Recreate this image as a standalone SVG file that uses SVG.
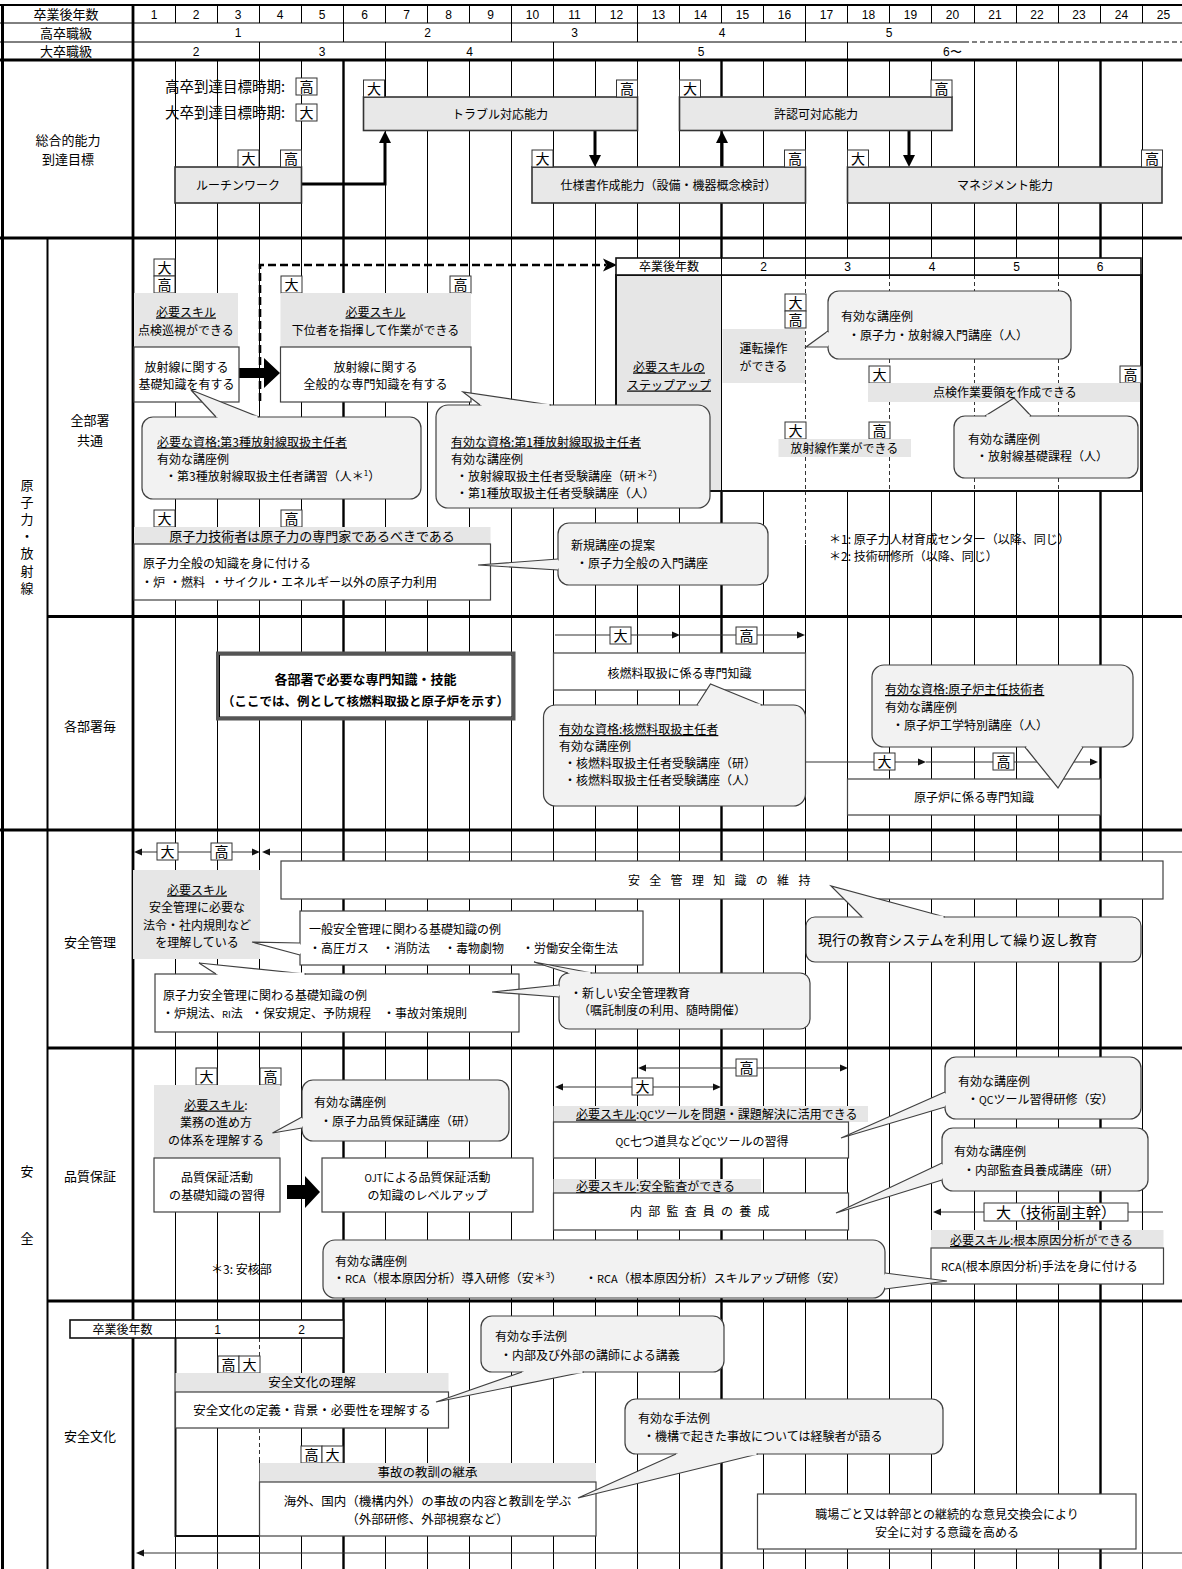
<svg xmlns="http://www.w3.org/2000/svg" width="1182" height="1569" viewBox="0 0 1182 1569">
<style>
svg{font-size:12px}
text{font-family:"Noto Sans CJK JP","Noto Sans CJK SC",sans-serif;fill:#000}
.c{text-anchor:middle}
.n{font-family:"Liberation Sans",Arial,sans-serif}
.u{text-decoration:underline}
.gl{stroke:#000;stroke-width:1;fill:none}
.gk{stroke:#000;stroke-width:2.4;fill:none}
.fr{stroke:#000;stroke-width:2.8;fill:none}
.tag{fill:#fff;stroke:#333;stroke-width:1}
.tagt{font-size:14px;text-anchor:middle}
.band{fill:#e6e6e6}
.box{fill:#fff;stroke:#404040;stroke-width:1.2}
.gbox{fill:#e8e8e8;stroke:#333;stroke-width:1.6}
.cl{fill:#f2f2f2;stroke:#404040;stroke-width:1.2}
.wc{fill:#fff;stroke:#404040;stroke-width:1.2}
.seam{stroke:#f2f2f2;stroke-width:3;fill:none}
.wseam{stroke:#fff;stroke-width:3;fill:none}
.ln{stroke:#333;stroke-width:1.2;fill:none}
.th{stroke:#000;stroke-width:3;fill:none}
.dash{stroke:#333;stroke-width:1;stroke-dasharray:4 3;fill:none}
</style>
<defs>
<marker id="a" viewBox="0 0 8 8" refX="0" refY="4" markerWidth="8" markerHeight="8" markerUnits="userSpaceOnUse" orient="auto-start-reverse"><path d="M0,0.6 L8,4 L0,7.4 z" fill="#111"/></marker>
<marker id="A" viewBox="0 0 12 12" refX="0" refY="6" markerWidth="12" markerHeight="12" markerUnits="userSpaceOnUse" orient="auto"><path d="M0,0 L12,6 L0,12 z" fill="#000"/></marker>
<g id="tD"><rect class="tag" width="21" height="17"/><text class="tagt" x="10.5" y="14">大</text></g>
<g id="tK"><rect class="tag" width="21" height="17"/><text class="tagt" x="10.5" y="14">高</text></g>
</defs>
<rect width="1182" height="1569" fill="#fff"/>

<!-- year grid -->
<g id="grid">
<path class="gl" d="M175.5 60V1569M217.5 60V1569M259.5 60V1338M259.5 1460V1569M301.5 60V1569M385.5 60V1569M427.5 60V1569M469.5 60V1569M511.5 60V1569M553.5 60V1569M595.5 60V1569M637.5 60V1569M679.5 60V1569M763.5 60V1569M805.5 60V491M805.5 545V1569M847.5 60V1569M889.5 60V1569M931.5 60V1569M974.5 60V1569M1016.5 60V1569M1058.5 60V1569M1142.5 60V1569"/>
<path class="gk" d="M343.5 60V1569M721.5 60V1569M1100.5 60V1569"/>
<path class="dash" d="M259.5 1338V1460M805.5 491V545"/>
</g>

<!-- header rows -->
<g id="header">
<path class="gl" d="M0 23H1182M0 42H964"/>
<path class="dash" d="M964 42H1182" style="stroke:#000;stroke-width:1.2;stroke-dasharray:5 3"/>
<path class="gl" d="M0 5H1182" style="stroke-width:2"/>
<path class="gl" d="M175.5 5V23M217.5 5V23M259.5 5V23M301.5 5V23M343.5 5V23M385.5 5V23M427.5 5V23M469.5 5V23M511.5 5V23M553.5 5V23M595.5 5V23M637.5 5V23M679.5 5V23M721.5 5V23M763.5 5V23M805.5 5V23M847.5 5V23M889.5 5V23M931.5 5V23M974.5 5V23M1016.5 5V23M1058.5 5V23M1100.5 5V23M1142.5 5V23"/>
<path class="gl" d="M343.5 23V42M511.5 23V42M637.5 23V42M805.5 23V42M259.5 42V60M385.5 42V60M553.5 42V60M847.5 42V60"/>
<text class="c" x="66" y="19" font-size="13">卒業後年数</text>
<text class="c" x="66" y="37.5" font-size="13">高卒職級</text>
<text class="c" x="66" y="56" font-size="13">大卒職級</text>
<g font-size="12">
<text class="c n" x="154" y="18.5">1</text><text class="c n" x="196" y="18.5">2</text><text class="c n" x="238" y="18.5">3</text><text class="c n" x="280" y="18.5">4</text><text class="c n" x="322" y="18.5">5</text><text class="c n" x="364.5" y="18.5">6</text><text class="c n" x="406.5" y="18.5">7</text><text class="c n" x="448.5" y="18.5">8</text><text class="c n" x="490.5" y="18.5">9</text><text class="c n" x="532.5" y="18.5">10</text><text class="c n" x="574.5" y="18.5">11</text><text class="c n" x="616.5" y="18.5">12</text><text class="c n" x="658.5" y="18.5">13</text><text class="c n" x="700.5" y="18.5">14</text><text class="c n" x="742.5" y="18.5">15</text><text class="c n" x="784.5" y="18.5">16</text><text class="c n" x="826.5" y="18.5">17</text><text class="c n" x="868.5" y="18.5">18</text><text class="c n" x="910.5" y="18.5">19</text><text class="c n" x="952.5" y="18.5">20</text><text class="c n" x="995" y="18.5">21</text><text class="c n" x="1037" y="18.5">22</text><text class="c n" x="1079" y="18.5">23</text><text class="c n" x="1121.5" y="18.5">24</text><text class="c n" x="1163.5" y="18.5">25</text>
<text class="c n" x="238" y="37">1</text><text class="c n" x="427.5" y="37">2</text><text class="c n" x="574.5" y="37">3</text><text class="c n" x="722" y="37">4</text><text class="c n" x="889" y="37">5</text>
<text class="c n" x="196" y="55.5">2</text><text class="c n" x="322" y="55.5">3</text><text class="c n" x="469.5" y="55.5">4</text><text class="c n" x="701" y="55.5">5</text><text class="n" x="943" y="55.5">6〜</text>
</g>
</g>

<!-- outer frame and section rules -->
<g id="frame">
<path class="fr" d="M0 60H1182M0 238H1182M47 616.5H1182M0 830H1182M47 1048H1182M47 1301H1182"/>
<path class="fr" d="M2.5 5V1569" style="stroke-width:3"/>
<path class="fr" d="M133 5V1569"/>
<path class="fr" d="M47.5 238V1569" style="stroke-width:2"/>
</g>

<!-- row labels -->
<g id="labels">
<text class="c" x="68" y="145" font-size="13">総合的能力</text>
<text class="c" x="68" y="164" font-size="13">到達目標</text>
<g font-size="13">
<text class="c" x="27" y="490">原</text><text class="c" x="27" y="507">子</text><text class="c" x="27" y="524">力</text><text class="c" x="27" y="541">・</text><text class="c" x="27" y="558">放</text><text class="c" x="27" y="575.5">射</text><text class="c" x="27" y="593">線</text>
<text class="c" x="27" y="1176">安</text><text class="c" x="27" y="1243">全</text>
</g>
<text class="c" x="90" y="424.5" font-size="13">全部署</text>
<text class="c" x="90" y="444.5" font-size="13">共通</text>
<text class="c" x="90" y="731" font-size="13">各部署毎</text>
<text class="c" x="90" y="947" font-size="13">安全管理</text>
<text class="c" x="90" y="1181" font-size="13">品質保証</text>
<text class="c" x="90" y="1441" font-size="13">安全文化</text>
</g>

<!-- connectors -->
<g id="connectors">
<path class="th" d="M302 184H385V143" marker-end="url(#A)"/>
<path class="th" d="M595 131V155" marker-end="url(#A)"/>
<path class="th" d="M722 167V143" marker-end="url(#A)"/>
<path class="th" d="M909 131V155" marker-end="url(#A)"/>
<path d="M260 401V265H606" fill="none" stroke="#000" stroke-width="2.6" stroke-dasharray="8 4"/>
<path d="M603 258.5L617 265L603 271.5L606.5 265Z" fill="#000"/>
<path d="M239 368H264V358L280 373L264 388V378H239Z" fill="#000"/>
<path d="M287 1185H305V1176L320 1192L305 1208V1199H287Z" fill="#000"/>
<path class="ln" d="M555 635H672" marker-end="url(#a)"/>
<path class="ln" d="M680 635H797" marker-end="url(#a)"/>
<path class="ln" d="M805 762H918" marker-end="url(#a)"/>
<path class="ln" d="M926 762H1090" marker-end="url(#a)"/>
<path class="ln" d="M142 852H252" marker-start="url(#a)" marker-end="url(#a)"/>
<path class="ln" d="M270 852H1182" marker-start="url(#a)"/>
<path class="ln" d="M646 1068H840" marker-start="url(#a)" marker-end="url(#a)"/>
<path class="ln" d="M563 1087H713" marker-start="url(#a)" marker-end="url(#a)"/>
<path class="ln" d="M941 1212H1163" marker-start="url(#a)"/>
<path class="ln" d="M144 1553H1182" marker-start="url(#a)"/>
</g>

<!-- overall competence targets -->
<g id="legend">
<text x="165" y="92" font-size="14.5">高卒到達目標時期:</text>
<text x="165" y="118" font-size="14.5">大卒到達目標時期:</text>
<use href="#tK" x="296" y="78"/><use href="#tD" x="296" y="104"/>
</g>
<g id="n-trouble">
<rect class="gbox" x="363.5" y="97" width="274" height="33.5"/>
<text class="c" x="500" y="118.5">トラブル対応能力</text>
<use href="#tD" x="363.5" y="80"/><use href="#tK" x="616.5" y="80"/>
</g>
<g id="n-permit">
<rect class="gbox" x="679.5" y="97" width="272.5" height="33.5"/>
<text class="c" x="816" y="118.5">許認可対応能力</text>
<use href="#tD" x="679.5" y="80"/><use href="#tK" x="931" y="80"/>
</g>
<g id="n-routine">
<rect class="gbox" x="175" y="167" width="126.5" height="36"/>
<text class="c" x="238" y="189.5">ルーチンワーク</text>
<use href="#tD" x="238" y="150"/><use href="#tK" x="280.5" y="150"/>
</g>
<g id="n-spec">
<rect class="gbox" x="532" y="167" width="273.5" height="36"/>
<text class="c" x="668.5" y="189.5">仕様書作成能力（設備・機器概念検討）</text>
<use href="#tD" x="532" y="150"/><use href="#tK" x="784.5" y="150"/>
</g>
<g id="n-mgmt">
<rect class="gbox" x="847.5" y="167" width="314.5" height="36"/>
<text class="c" x="1005" y="189.5">マネジメント能力</text>
<use href="#tD" x="847.5" y="150"/><use href="#tK" x="1141.5" y="150"/>
</g>

<!-- nuclear / radiation: all departments -->
<g id="n-patrol">
<use href="#tD" x="154" y="259"/><use href="#tK" x="154" y="276"/>
<rect class="band" x="134" y="293" width="104" height="54"/>
<text class="c u" x="186" y="316.5">必要スキル</text>
<text class="c" x="186" y="334.5">点検巡視ができる</text>
<rect class="box" x="134" y="347" width="105" height="55"/>
<text class="c" x="186.5" y="371.5">放射線に関する</text>
<text class="c" x="186.5" y="388.5">基礎知識を有する</text>
</g>
<g id="n-lead">
<use href="#tD" x="281" y="276"/><use href="#tK" x="450" y="276"/>
<rect class="band" x="280.5" y="293" width="190.5" height="54"/>
<text class="c u" x="375.5" y="316.5">必要スキル</text>
<text class="c" x="375.5" y="334.5">下位者を指揮して作業ができる</text>
<rect class="box" x="280.5" y="347" width="190.5" height="55"/>
<text class="c" x="375.5" y="371.5">放射線に関する</text>
<text class="c" x="375.5" y="388.5">全般的な専門知識を有する</text>
</g>
<g id="n-qual3">
<rect class="cl" x="142" y="417" width="279" height="82" rx="11"/>
<path class="cl" d="M216 417L191 390L259 417"/>
<path class="seam" d="M217.5 417H257.5"/>
<text class="u" x="157" y="446.5">必要な資格:第3種放射線取扱主任者</text>
<text x="157" y="464">有効な講座例</text>
<text x="165" y="481">・第3種放射線取扱主任者講習（人＊<tspan font-size="8" dy="-5">1</tspan><tspan dy="5">）</tspan></text>
</g>
<g id="n-stepup">
<rect x="616" y="275" width="525" height="216" fill="#fff" stroke="#111" stroke-width="2"/>
<rect class="band" x="617" y="276" width="104.5" height="214"/>
<path class="gl" d="M721.5 275V491"/>
<path class="dash" d="M805.5 275V491M889.5 275V491M974.5 275V491M1058.5 275V491"/>
<rect x="616" y="258" width="525" height="17" fill="#fff" stroke="#111" stroke-width="1.6"/>
<path class="gl" d="M721.5 258V275M805.5 258V275M889.5 258V275M974.5 258V275M1058.5 258V275"/>
<text class="c" x="669" y="271">卒業後年数</text>
<text class="c n" x="763.5" y="271">2</text><text class="c n" x="847.5" y="271">3</text><text class="c n" x="932" y="271">4</text><text class="c n" x="1016.5" y="271">5</text><text class="c n" x="1100" y="271">6</text>
<text class="c u" x="669" y="371.5">必要スキルの</text>
<text class="c u" x="669" y="389.5">ステップアップ</text>
</g>
<g id="n-qual1">
<rect class="cl" x="436" y="405" width="274" height="103" rx="12"/>
<path class="cl" d="M480 405L463 392L551 405"/>
<path class="seam" d="M481.5 405H549.5"/>
<text class="u" x="451" y="446.5">有効な資格:第1種放射線取扱主任者</text>
<text x="451" y="464">有効な講座例</text>
<text x="456" y="481">・放射線取扱主任者受験講座（研＊<tspan font-size="8" dy="-5">2</tspan><tspan dy="5">）</tspan></text>
<text x="456" y="498">・第1種放取扱主任者受験講座（人）</text>
</g>
<g id="n-operate">
<use href="#tD" x="785" y="294"/><use href="#tK" x="785" y="311"/>
<rect class="band" x="722.5" y="329" width="82.5" height="54"/>
<text class="c" x="763.5" y="352.5">運転操作</text>
<text class="c" x="763.5" y="370.5">ができる</text>
</g>
<g id="n-intro">
<rect class="cl" x="828" y="291" width="243" height="68" rx="11"/>
<path class="cl" d="M828 331L806 347L828 347"/>
<path class="seam" d="M828 332.5V345.5"/>
<text x="841" y="321">有効な講座例</text>
<text x="848" y="339.5">・原子力・放射線入門講座（人）</text>
</g>
<g id="n-procedure">
<use href="#tD" x="869" y="366"/><use href="#tK" x="1120" y="366"/>
<rect class="band" x="868" y="383" width="272" height="19"/>
<text class="c" x="1005" y="397">点検作業要領を作成できる</text>
</g>
<g id="n-basic">
<rect class="cl" x="954" y="416" width="184" height="62" rx="11"/>
<path class="cl" d="M985 416L1014 398L1031 416"/>
<path class="seam" d="M986.5 416H1029.5"/>
<text x="968" y="443.5">有効な講座例</text>
<text x="976" y="461">・放射線基礎課程（人）</text>
</g>
<g id="n-radwork">
<use href="#tD" x="785" y="422"/><use href="#tK" x="869" y="422"/>
<rect class="band" x="778.5" y="439" width="132.5" height="18"/>
<text class="c" x="844.5" y="452.5">放射線作業ができる</text>
</g>
<g id="n-notes">
<text x="829" y="543.5">＊1: 原子力人材育成センター（以降、同じ）</text>
<text x="829" y="561">＊2: 技術研修所（以降、同じ）</text>
</g>
<g id="n-general">
<use href="#tD" x="154" y="510"/><use href="#tK" x="281" y="510"/>
<rect class="band" x="134" y="527" width="356.5" height="17"/>
<text class="c" x="312" y="540.5" font-size="13">原子力技術者は原子力の専門家であるべきである</text>
<rect class="box" x="134" y="544" width="356.5" height="56"/>
<text x="143" y="568">原子力全般の知識を身に付ける</text>
<text y="587"><tspan x="141">・炉</tspan><tspan x="169">・燃料</tspan><tspan x="211">・サイクル</tspan><tspan x="269">・エネルギー以外の原子力利用</tspan></text>
</g>
<g id="n-newcourse">
<rect class="cl" x="558" y="523" width="210" height="62" rx="11"/>
<path class="cl" d="M558 559L478 565L558 570"/>
<path class="seam" d="M558 560.5V568.5"/>
<text x="571" y="549.5">新規講座の提案</text>
<text x="576" y="567.5">・原子力全般の入門講座</text>
</g>

<!-- nuclear / radiation: per department -->
<g id="n-dept">
<rect x="217.5" y="653" width="296.5" height="66" fill="#fff" stroke="#555" stroke-width="3"/>
<rect x="219.5" y="655" width="292.5" height="62" fill="none" stroke="#000" stroke-width="1"/>
<text class="c" x="365.5" y="684" font-weight="bold" font-size="13">各部署で必要な専門知識・技能</text>
<text class="c" x="365.5" y="706" font-weight="bold" font-size="12.5">（ここでは、例として核燃料取扱と原子炉を示す）</text>
</g>
<g id="n-fuel">
<use href="#tD" x="610" y="627"/><use href="#tK" x="736" y="627"/>
<rect class="box" x="553.5" y="653" width="252" height="37"/>
<text class="c" x="679.5" y="677.5">核燃料取扱に係る専門知識</text>
</g>
<g id="n-fuelqual">
<rect class="cl" x="543.5" y="705" width="262" height="101" rx="12"/>
<path class="cl" d="M697 705L710.5 684L762 705"/>
<path class="seam" d="M698.5 705H760.5"/>
<text class="u" x="559" y="734">有効な資格:核燃料取扱主任者</text>
<text x="559" y="751">有効な講座例</text>
<text x="564" y="768">・核燃料取扱主任者受験講座（研）</text>
<text x="564" y="785">・核燃料取扱主任者受験講座（人）</text>
</g>
<g id="n-reactor">
<use href="#tD" x="874" y="753"/><use href="#tK" x="993" y="753"/>
<rect class="box" x="847.5" y="779" width="253" height="36"/>
<text class="c" x="974" y="801.5">原子炉に係る専門知識</text>
</g>
<g id="n-reactorqual">
<rect class="cl" x="872" y="665" width="261" height="82" rx="12"/>
<path class="cl" d="M1025 747L1058 788L1083 747"/>
<path class="seam" d="M1026.5 747H1081.5"/>
<text class="u" x="885" y="694">有効な資格:原子炉主任技術者</text>
<text x="885" y="712">有効な講座例</text>
<text x="892" y="729.5">・原子炉工学特別講座（人）</text>
</g>

<!-- safety management -->
<g id="n-law">
<use href="#tD" x="157" y="843"/><use href="#tK" x="211" y="843"/>
<rect class="band" x="133" y="870" width="127" height="89"/>
<text class="c u" x="197" y="894.5">必要スキル</text>
<text class="c" x="197" y="912">安全管理に必要な</text>
<text class="c" x="197" y="929.5">法令・社内規則など</text>
<text class="c" x="197" y="947">を理解している</text>
</g>
<g id="n-keep">
<rect class="box" x="281" y="861" width="882" height="38"/>
<text x="628" y="884.5" letter-spacing="9.3">安全管理知識の維持</text>
</g>
<g id="n-repeat">
<rect class="cl" x="806" y="917" width="335" height="45" rx="9"/>
<path class="cl" d="M862 917L831 886L945 917"/>
<path class="seam" d="M863.5 917H943.5"/>
<text x="818" y="945" font-size="14">現行の教育システムを利用して繰り返し教育</text>
</g>
<g id="n-gensafe">
<rect class="wc" x="300" y="911" width="343" height="54"/>
<path class="wc" d="M300 943L252 942L300 955"/>
<path class="wseam" d="M300 944.5V953.5"/>
<text x="309" y="933.5">一般安全管理に関わる基礎知識の例</text>
<text y="952.5"><tspan x="309">・高圧ガス</tspan><tspan x="382">・消防法</tspan><tspan x="444">・毒物劇物</tspan><tspan x="522">・労働安全衛生法</tspan></text>
</g>
<g id="n-nucsafe">
<rect class="wc" x="155" y="974" width="364" height="58"/>
<path class="wc" d="M216 974L199 963L306 974"/>
<path class="wseam" d="M217.5 974H304.5"/>
<text x="163" y="999.5">原子力安全管理に関わる基礎知識の例</text>
<text y="1018"><tspan x="162">・炉規法、<tspan font-size="9.5">RI</tspan>法</tspan><tspan x="251">・保安規定、予防規程</tspan><tspan x="383">・事故対策規則</tspan></text>
</g>
<g id="n-newedu">
<rect class="cl" x="559" y="973" width="251" height="56" rx="10"/>
<path class="cl" d="M559 985L492 992L559 997"/>
<path class="seam" d="M559 986.5V995.5"/>
<path class="cl" d="M568 973L534 962L592 973"/>
<path class="seam" d="M569.5 973H590.5"/>
<text x="570" y="997.5">・新しい安全管理教育</text>
<text x="578" y="1015">（嘱託制度の利用、随時開催）</text>
</g>

<!-- quality assurance -->
<g id="n-qa-basic">
<use href="#tD" x="196" y="1068"/><use href="#tK" x="260" y="1068"/>
<rect class="band" x="154" y="1085" width="126" height="73"/>
<text class="c" x="216" y="1109.5"><tspan class="u">必要スキル</tspan>:</text>
<text class="c" x="216" y="1127">業務の進め方</text>
<text class="c" x="216" y="1144.5">の体系を理解する</text>
<rect class="box" x="154" y="1158" width="126" height="54"/>
<text class="c" x="217" y="1181.5">品質保証活動</text>
<text class="c" x="217" y="1199.5">の基礎知識の習得</text>
</g>
<g id="n-qa-ojt">
<rect class="box" x="322" y="1158" width="211" height="54"/>
<text class="c" x="427.5" y="1181.5"><tspan font-size="10">OJT</tspan>による品質保証活動</text>
<text class="c" x="427.5" y="1199.5">の知識のレベルアップ</text>
</g>
<g id="n-qa-course">
<rect class="cl" x="302" y="1080" width="207" height="61" rx="11"/>
<path class="cl" d="M302 1117L272.5 1133L302 1128"/>
<path class="seam" d="M302 1118.5V1126.5"/>
<text x="314" y="1107">有効な講座例</text>
<text x="320" y="1125.5">・原子力品質保証講座（研）</text>
</g>
<g id="n-qc">
<use href="#tK" x="736" y="1059"/><use href="#tD" x="632" y="1078"/>
<rect class="band" x="553.5" y="1106" width="314.5" height="16"/>
<text x="576" y="1118.5"><tspan class="u">必要スキル</tspan>:<tspan font-size="10.5">QC</tspan>ツールを問題・課題解決に活用できる</text>
<rect class="box" x="553.5" y="1122" width="295" height="36"/>
<text class="c" x="702" y="1146"><tspan font-size="10.5">QC</tspan>七つ道具など<tspan font-size="10.5">QC</tspan>ツールの習得</text>
</g>
<g id="n-audit">
<rect class="band" x="553.5" y="1179" width="207.5" height="14"/>
<text x="576" y="1191"><tspan class="u">必要スキル</tspan>:安全監査ができる</text>
<rect class="box" x="553.5" y="1193" width="295" height="37"/>
<text x="630" y="1216" letter-spacing="6.2">内部監査員の養成</text>
</g>
<g id="n-qc-course">
<rect class="cl" x="945" y="1057" width="196" height="62" rx="11"/>
<path class="cl" d="M945 1092L841 1138L945 1107"/>
<path class="seam" d="M945 1093.5V1105.5"/>
<text x="958" y="1085.5">有効な講座例</text>
<text x="967" y="1103.5">・<tspan font-size="10.5">QC</tspan>ツール習得研修（安）</text>
</g>
<g id="n-audit-course">
<rect class="cl" x="942" y="1128" width="206" height="63" rx="11"/>
<path class="cl" d="M942 1163L836 1213L942 1180"/>
<path class="seam" d="M942 1164.5V1178.5"/>
<text x="954" y="1156">有効な講座例</text>
<text x="963" y="1174.5">・内部監査員養成講座（研）</text>
</g>
<g id="n-rca">
<rect class="tag" x="984" y="1203" width="144" height="18"/>
<text class="c" x="1056" y="1217.5" font-size="15">大（技術副主幹）</text>
<rect class="band" x="931" y="1230" width="232.5" height="18"/>
<text x="950" y="1245"><tspan class="u">必要スキル</tspan>:根本原因分析ができる</text>
<rect class="box" x="931" y="1248" width="232.5" height="36"/>
<text x="941" y="1270.5"><tspan font-size="11">RCA</tspan>(根本原因分析)手法を身に付ける</text>
</g>
<g id="n-rca-course">
<rect class="cl" x="323" y="1240" width="562" height="58" rx="12"/>
<path class="cl" d="M885 1273L947 1281L885 1289"/>
<path class="seam" d="M885 1274.5V1287.5"/>
<text x="335" y="1266">有効な講座例</text>
<text y="1283"><tspan x="333">・<tspan font-size="11">RCA</tspan>（根本原因分析）導入研修（安＊<tspan font-size="8" dy="-5">3</tspan><tspan dy="5">）</tspan></tspan><tspan x="585">・<tspan font-size="11">RCA</tspan>（根本原因分析）スキルアップ研修（安）</tspan></text>
</g>
<g id="n-note3">
<text x="211" y="1273.5">＊3: 安核部</text>
</g>

<!-- safety culture -->
<g id="n-culture-years">
<path d="M175.5 1338V1536H259.5" fill="none" stroke="#111" stroke-width="2"/>
<rect x="70" y="1320" width="273.5" height="18" fill="#fff" stroke="#111" stroke-width="1.6"/>
<path class="gl" d="M175.5 1320V1338M259.5 1320V1338"/>
<text class="c" x="122.5" y="1333.5">卒業後年数</text>
<text class="c n" x="217.5" y="1333.5">1</text>
<text class="c n" x="301.5" y="1333.5">2</text>
</g>
<g id="n-culture">
<use href="#tK" x="218" y="1356"/><use href="#tD" x="239" y="1356"/>
<rect class="band" x="175.5" y="1373" width="273" height="19"/>
<text class="c" x="312" y="1387" font-size="12.5">安全文化の理解</text>
<rect class="box" x="175.5" y="1392" width="273" height="36"/>
<text class="c" x="312" y="1414.5" font-size="12.5">安全文化の定義・背景・必要性を理解する</text>
</g>
<g id="n-lecture">
<rect class="cl" x="481" y="1316" width="243" height="56" rx="11"/>
<path class="cl" d="M522 1372L436 1402L584 1372"/>
<path class="seam" d="M523.5 1372H582.5"/>
<text x="495" y="1341">有効な手法例</text>
<text x="500" y="1359.5">・内部及び外部の講師による講義</text>
</g>
<g id="n-lessons">
<use href="#tK" x="301" y="1446"/><use href="#tD" x="322" y="1446"/>
<rect class="band" x="259.5" y="1463" width="336.5" height="19"/>
<text class="c" x="427.5" y="1477" font-size="12.5">事故の教訓の継承</text>
<rect class="box" x="259.5" y="1482" width="336.5" height="54"/>
<text class="c" x="427.5" y="1505.5" font-size="12.5">海外、国内（機構内外）の事故の内容と教訓を学ぶ</text>
<text class="c" x="427.5" y="1523.5" font-size="12.5">（外部研修、外部視察など）</text>
</g>
<g id="n-experience">
<rect class="cl" x="625" y="1399" width="318" height="55" rx="11"/>
<path class="cl" d="M676 1454L578 1498L758 1454"/>
<path class="seam" d="M677.5 1454H756.5"/>
<text x="638" y="1423">有効な手法例</text>
<text x="643" y="1441">・機構で起きた事故については経験者が語る</text>
</g>
<g id="n-dialogue">
<rect class="box" x="757.5" y="1494" width="378.5" height="55"/>
<text class="c" x="947" y="1518.5">職場ごと又は幹部との継続的な意見交換会により</text>
<text class="c" x="947" y="1536.5">安全に対する意識を高める</text>
</g>
</svg>
